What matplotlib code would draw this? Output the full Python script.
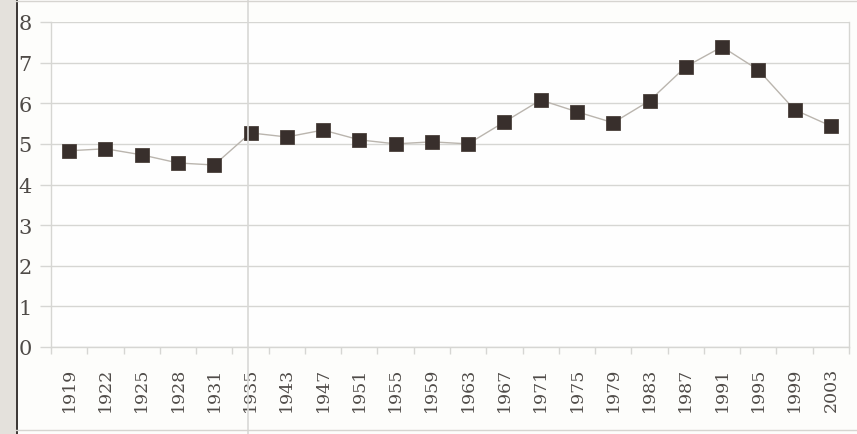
import matplotlib.pyplot as plt
from matplotlib.lines import Line2D

# Jahre und Werte der Reihe
years = ['1919', '1922', '1925', '1928', '1931', '1935', '1943', '1947',
         '1951', '1955', '1959', '1963', '1967', '1971', '1975', '1979',
         '1983', '1987', '1991', '1995', '1999', '2003']
values = [4.83, 4.88, 4.73, 4.53, 4.48, 5.27, 5.17, 5.34,
          5.10, 5.00, 5.05, 5.00, 5.54, 6.08, 5.79, 5.52,
          6.06, 6.90, 7.39, 6.82, 5.84, 5.44]
y_ticks = [0, 1, 2, 3, 4, 5, 6, 7, 8]

plt.rcParams['font.family'] = ['DejaVu Serif']

fig = plt.figure(figsize=(8.57, 4.35), dpi=100, facecolor='#fdfdfb')
ax = fig.add_axes([51 / 857, 87 / 435, 798 / 857, 325 / 435])
ax.set_facecolor('#fefefe')

x = list(range(len(years)))
ax.plot(x, values, color='#bab5ae', linewidth=1.0, zorder=3)
ax.plot(x, values, linestyle='none', marker='s', markersize=10.5,
        markerfacecolor='#382f2c', markeredgecolor='#4a403b',
        markeredgewidth=0.6, zorder=4)

ax.set_xlim(-0.5, len(years) - 0.5)
ax.set_ylim(0, 8)

# Gitterlinien
ax.set_yticks(y_ticks)
ax.yaxis.grid(True, color='#d6d6d3', linewidth=1.0)
ax.set_axisbelow(True)
ax.tick_params(axis='y', length=8, width=1, color='#d6d6d3', pad=6,
               labelsize=15, labelcolor='#4f4b48')

# Kategorien mit Teilstrichen zwischen den Jahren
ax.set_xticks(x)
ax.set_xticklabels(years, rotation=90, fontsize=12.5, color='#4f4b48')
ax.set_xticks([i - 0.5 for i in range(len(years) + 1)], minor=True)
ax.tick_params(axis='x', which='major', length=0, pad=14)
ax.tick_params(axis='x', which='minor', length=5, width=1, color='#d6d6d3')

for side in ['left', 'right', 'bottom']:
    ax.spines[side].set_color('#d6d6d3')
    ax.spines[side].set_linewidth(1.0)
ax.spines['top'].set_visible(False)

# Rahmen und Seitenrand
fig.patches.append(plt.Rectangle((0, 0), 16 / 857, 1, transform=fig.transFigure,
                                 facecolor='#e4e1dc', edgecolor='none', zorder=0))
fig.lines.append(Line2D([16.5 / 857, 16.5 / 857], [0, 1], transform=fig.transFigure,
                        color='#2a2624', linewidth=1.3))
fig.lines.append(Line2D([248 / 857, 248 / 857], [0, 1], transform=fig.transFigure,
                        color='#d8d8d6', linewidth=1.2, zorder=1))
fig.lines.append(Line2D([16 / 857, 1], [1 - 2 / 435, 1 - 2 / 435], transform=fig.transFigure,
                        color='#d6d4d0', linewidth=1.0))
fig.lines.append(Line2D([16 / 857, 1], [4 / 435, 4 / 435], transform=fig.transFigure,
                        color='#d6d4d0', linewidth=1.0))

fig.savefig('out.png', dpi=100, facecolor=fig.get_facecolor())
